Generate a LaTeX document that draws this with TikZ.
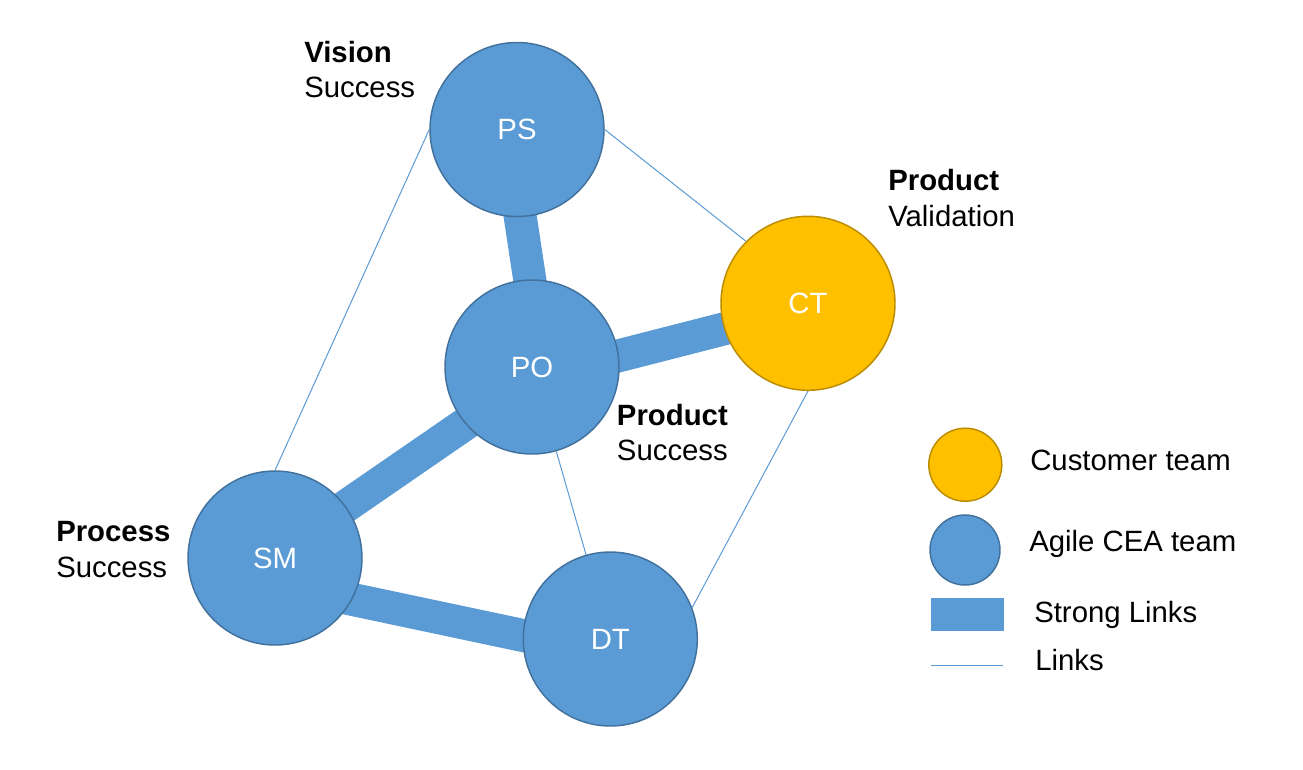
\documentclass[tikz,border=0pt]{standalone}
\usepackage{fontspec}
\setmainfont{Liberation Sans}
\usetikzlibrary{calc,backgrounds}
\definecolor{cblue}{HTML}{5B9BD5}
\definecolor{cbluedark}{HTML}{41719C}
\definecolor{cyel}{HTML}{FFC000}
\definecolor{cyeldark}{HTML}{BC8C00}
\tikzset{
  team/.style={circle, minimum size=130.5pt, inner sep=0pt, line width=1.1pt,
    text=white, font=\fontsize{22pt}{27pt}\selectfont},
  agile/.style={team, fill=cblue, draw=cbluedark},
  cust/.style={team, fill=cyel, draw=cyeldark},
  lbl/.style={anchor=base west, inner sep=0pt, text=black, font=\fontsize{22pt}{27pt}\selectfont},
  strong/.style={draw=cblue, line width=24.75pt},
  weak/.style={draw=cblue, line width=0.75pt},
}
\begin{document}
\begin{tikzpicture}[x=0.75pt,y=-0.75pt]
\useasboundingbox (0,0) rectangle (1303,769);
% team nodes
\node[agile] (PS) at (517,129.5) {PS};
\node[agile] (PO) at (532,367) {PO};
\node[cust]  (CT) at (808,303.3) {CT};
\node[agile] (SM) at (275,558) {SM};
\node[agile] (DT) at (610.3,639) {DT};
% links
\begin{pgfonlayer}{background}
  \draw[weak] (PS.west) -- (SM.north);
  \draw[weak] (PS.east) -- (CT.135);
  \draw[weak] (PO) -- (DT);
  \draw[weak] (CT.south) -- (DT.21);
  \draw[strong] ($(PS.center)+(-10,0)$) -- ($(PO.center)+(11,0)$);
  \draw[strong] ($(PO.center)+(0,11)$) -- ($(CT.center)+(0,4)$);
  \draw[strong] ($(PO.center)+(0,11)$) -- ($(SM.center)+(0,-3)$);
  \draw[strong] ($(SM.center)+(0,25)$) -- ($(DT.center)+(0,15)$);
\end{pgfonlayer}
% labels
\node[lbl] (vis1) at (304,62.3) {\textbf{Vision}};
\node[lbl] (vis2) at (304,97.7) {Success};
\node[lbl] (val1) at (888,190.7) {\textbf{Product}};
\node[lbl] (val2) at (888,226.7) {Validation};
\node[lbl] (prs1) at (616.7,425.7) {\textbf{Product}};
\node[lbl] (prs2) at (616.7,460.5) {Success};
\node[lbl] (pro1) at (56,541.7) {\textbf{Process}};
\node[lbl] (pro2) at (56,577.3) {Success};
% legend
\node[cust, minimum size=54.75pt] (legC) at (965.3,464.7) {};
\node[agile, minimum size=52.5pt] (legA) at (965,550) {};
\node[rectangle, fill=cblue, minimum width=54.75pt, minimum height=24.75pt, inner sep=0pt] (legS) at (967.5,614.2) {};
\coordinate (legL1) at (931,665.7);
\coordinate (legL2) at (1003,665.7);
\draw[weak] (legL1) -- (legL2);
\node[lbl] (legCt) at (1030,470) {Customer team};
\node[lbl] (legAt) at (1029,551.7) {Agile CEA team};
\node[lbl] (legSt) at (1034,622.7) {Strong Links};
\node[lbl] (legLt) at (1035,670) {Links};
\end{tikzpicture}
\end{document}
